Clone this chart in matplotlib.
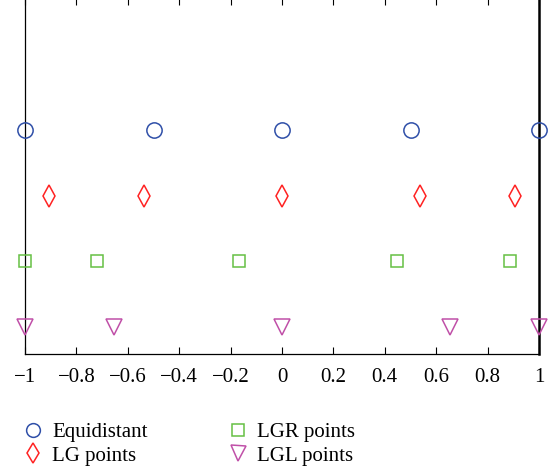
import matplotlib
matplotlib.use("Agg")
import matplotlib.pyplot as plt
from matplotlib.lines import Line2D

plt.rcParams['font.family'] = ['Liberation Serif', 'DejaVu Serif']
plt.rcParams['axes.unicode_minus'] = True

equidistant = [-1.0, -0.5, 0.0, 0.5, 1.0]
lg_points = [-0.9062, -0.5385, 0.0, 0.5385, 0.9062]
lgr_points = [-1.0, -0.7204, -0.1671, 0.4463, 0.8857]
lgl_points = [-1.0, -0.6547, 0.0, 0.6547, 1.0]
series_names = ["Equidistant", "LG points", "LGR points", "LGL points"]
row_levels = [4, 3, 2, 1]
xticks = [-1, -0.8, -0.6, -0.4, -0.2, 0, 0.2, 0.4, 0.6, 0.8, 1]
xticklabels = ["\u22121", "\u22120.8", "\u22120.6", "\u22120.4", "\u22120.2", "0", "0.2", "0.4", "0.6", "0.8", "1"]

fig = plt.figure(figsize=(5.53, 4.69), dpi=100)
ax = fig.add_axes([25/553, (469-354)/469, (539-25)/553, (354+2)/469])

styles = [
    dict(marker='o', color='#2f4fa8', ms=11),
    dict(marker='d', color='#ff2222', ms=11),
    dict(marker='s', color='#66c044', ms=9),
    dict(marker='v', color='#c050a8', ms=12),
]
data = [equidistant, lg_points, lgr_points, lgl_points]
handles = []
for xs, lvl, name, st in zip(data, row_levels, series_names, styles):
    h, = ax.plot(xs, [lvl]*len(xs), linestyle='none', marker=st['marker'],
                 ms=st['ms'], mfc='none', mec=st['color'], mew=1.1,
                 label=name, clip_on=False, zorder=3)
    handles.append(h)

ax.set_xlim(-1, 1)
ax.set_ylim(1 - 27/65.5, 1 + 329/65.5)
ax.set_xticks(xticks)
ax.set_xticklabels(xticklabels, fontsize=15)
ax.set_yticks([])
ax.tick_params(axis='x', direction='in', top=True, bottom=True, length=5, width=0.8, pad=10)
for s in ['left', 'bottom', 'top']:
    ax.spines[s].set_linewidth(0.9)
ax.spines['right'].set_linewidth(1.8)

fig.legend(handles=handles, ncol=2, loc='upper left', bbox_to_anchor=(15/553, (469-414)/469),
           frameon=False, fontsize=15, handlelength=0.9, handletextpad=0.5,
           columnspacing=3.85, labelspacing=0.2, borderaxespad=0, markerscale=0.9)

fig.savefig("out.png", dpi=100)
